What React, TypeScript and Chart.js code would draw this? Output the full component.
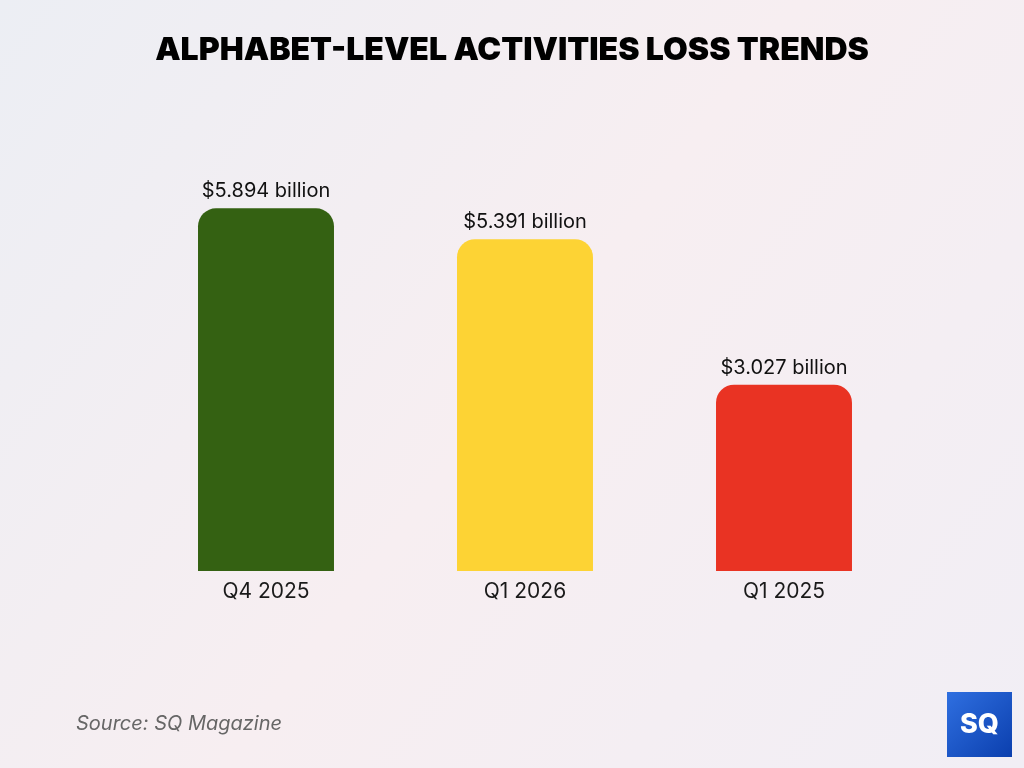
import React, { useEffect, useRef } from "react";
import { Chart, registerables } from "chart.js";

Chart.register(...registerables);

const categories = ["Q4 2025", "Q1 2026", "Q1 2025"];
const values = [5.894, 5.391, 3.027];
const valueLabels = ["$5.894 billion", "$5.391 billion", "$3.027 billion"];
const barColors = ["#346112", "#FDD334", "#E93323"];
const titleText = "ALPHABET-LEVEL ACTIVITIES LOSS TRENDS";
const sourceText = "Source: SQ Magazine";

const decorPlugin = {
  id: "decor",
  beforeDraw(chart: any) {
    const { ctx, width, height } = chart;
    ctx.save();
    const g = ctx.createLinearGradient(0, 0, width, height);
    g.addColorStop(0, "#eceef4");
    g.addColorStop(0.5, "#f7eef1");
    g.addColorStop(1, "#f1eef5");
    ctx.fillStyle = g;
    ctx.fillRect(0, 0, width, height);
    ctx.restore();
  },
  afterDraw(chart: any) {
    const { ctx } = chart;
    ctx.save();
    ctx.fillStyle = "#000000";
    ctx.font = "900 32px Inter";
    ctx.textAlign = "center";
    ctx.textBaseline = "middle";
    ctx.fillText(titleText, 512, 50);

    ctx.fillStyle = "#666666";
    ctx.font = "italic 20px Inter";
    ctx.textAlign = "left";
    ctx.fillText(sourceText, 76, 724);

    // logo
    const lg = ctx.createLinearGradient(947, 692, 1012, 757);
    lg.addColorStop(0, "#2f6fe0");
    lg.addColorStop(1, "#0b3fae");
    ctx.fillStyle = lg;
    ctx.fillRect(947, 692, 65, 65);
    ctx.fillStyle = "#ffffff";
    ctx.font = "800 27px Inter";
    ctx.textAlign = "center";
    ctx.fillText("SQ", 979.5, 725);
    ctx.restore();
  },
  afterDatasetsDraw(chart: any) {
    const { ctx } = chart;
    const meta = chart.getDatasetMeta(0);
    ctx.save();
    ctx.fillStyle = "#111111";
    ctx.font = "20px Inter";
    ctx.textAlign = "center";
    ctx.textBaseline = "alphabetic";
    meta.data.forEach((bar: any, i: number) => {
      ctx.fillText(valueLabels[i], bar.x, bar.y - 11);
    });
    ctx.restore();
  },
};

export default function App() {
  const ref = useRef<HTMLCanvasElement>(null);
  useEffect(() => {
    if (!ref.current) return;
    const chart = new Chart(ref.current, {
      type: "bar",
      data: {
        labels: categories,
        datasets: [
          {
            data: values,
            backgroundColor: barColors,
            borderRadius: { topLeft: 18, topRight: 18, bottomLeft: 0, bottomRight: 0 },
            borderSkipped: false,
            categoryPercentage: 1,
            barPercentage: 0.525,
          },
        ],
      },
      options: {
        responsive: false,
        animation: false,
        layout: { padding: { left: 136.5, right: 110.5, top: 171, bottom: 157 } },
        plugins: { legend: { display: false }, title: { display: false }, tooltip: { enabled: false } },
        scales: {
          x: {
            grid: { display: false, drawTicks: false },
            border: { display: false },
            ticks: { color: "#1a1a1a", font: { size: 21, family: "Inter" }, padding: 8 },
            afterFit: (s: any) => {
              s.height = 40;
            },
          },
          y: { display: false, min: 0, max: 6.5 },
        },
      },
      plugins: [decorPlugin],
    });
    return () => chart.destroy();
  }, []);
  return (
    <div style={{ position: "fixed", left: 0, top: 0, width: 1024, height: 768 }}>
      <canvas ref={ref} width={1024} height={768} style={{ width: 1024, height: 768, display: "block" }} />
    </div>
  );
}
